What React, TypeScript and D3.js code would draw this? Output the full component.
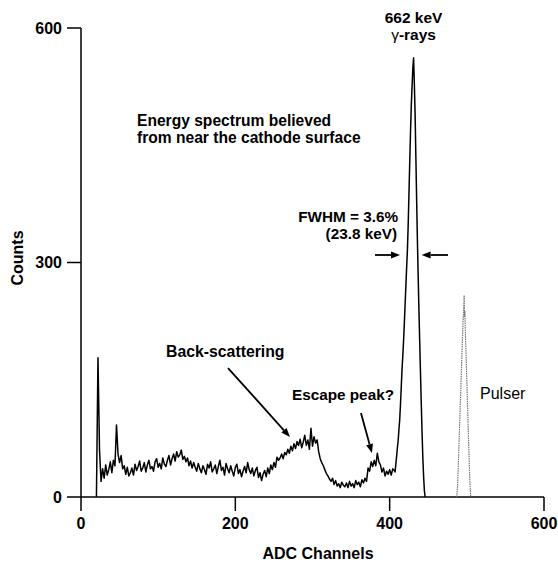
import React from 'react';
import * as d3 from 'd3';

const W = 558;
const H = 570;

const xTicks = [0, 200, 400, 600];
const yTicks = [0, 300, 600];

// low-energy part of the spectrum: one value every 2 channels starting at channel 20
const lowStart = 20;
const lowStep = 2;
const lowCounts = [
  0, 178, 60, 20,
  36, 24, 41, 28, 35, 45, 31, 47, 40, 92,
  55, 44, 53, 36, 40, 29, 38, 27, 31, 37,
  28, 42, 34, 39, 46, 33, 37, 44, 32, 41,
  47, 36, 39, 33, 45, 49, 38, 43, 36, 50,
  42, 39, 47, 53, 41, 49, 55, 46, 58, 51,
  54, 60, 48, 52, 45, 50, 40, 46, 37, 44,
  38, 33, 43, 36, 31, 40, 35, 29, 42, 37,
  45, 32, 36, 41, 30, 39, 47, 34, 38, 28,
  43, 36, 31, 40, 33, 27, 38, 42, 30, 35,
  26, 33, 39, 31, 44, 35, 30, 37, 27, 34,
  38, 25, 31, 21, 29, 34, 26, 37, 30, 41,
  35, 44, 38, 51, 47, 50, 55, 49, 57, 54,
  61, 56, 65, 59, 68, 62, 71, 66, 74, 63,
  70, 79, 66, 73, 61, 88, 65, 77, 69, 73,
  58, 49, 44, 40, 35, 30, 27, 23, 20, 24,
  16, 21, 14, 17, 12, 19, 15, 13, 18, 12,
  20, 14, 17, 12, 21, 16, 19, 13, 22, 18,
  24, 20, 37, 33, 45, 39, 47, 40, 56, 45,
  41, 32, 37, 27, 33, 29, 35, 28, 36, 34,
];

// 662 keV photopeak
const peakChannels = [
  407, 408, 409, 410, 411, 412, 413, 414, 415, 416, 417, 418, 419, 420, 421, 422, 423, 424, 425, 426,
  427, 428, 429, 430, 431, 432, 433, 434, 435, 436, 437, 438, 439, 440, 441, 442, 443, 444, 445, 446,
];
const peakCounts = [
  32, 42, 52, 63, 72, 86, 99, 118, 140, 163, 180, 200, 222, 246, 270, 294, 316, 348, 388, 428,
  466, 500, 525, 548, 562, 528, 488, 432, 378, 326, 280, 236, 196, 156, 118, 82, 50, 26, 8, 0,
];

// pulser peak
const pulserChannels = [487, 488, 489, 490, 491, 492, 493, 494, 495, 496, 496.5, 497, 497.5, 498, 499, 500, 501, 502, 503, 504, 505];
const pulserCounts = [0, 14, 42, 72, 102, 132, 162, 192, 222, 240, 258, 230, 238, 214, 182, 148, 114, 80, 48, 18, 0];

const FONT = "'Liberation Sans', Arial, Helvetica, sans-serif";

export default function App() {
  const x = d3.scaleLinear().domain([0, 600]).range([81, 544]);
  const y = d3.scaleLinear().domain([0, 600]).range([497, 28]);

  const spectrum: [number, number][] = [
    ...lowCounts.map((v, i) => [lowStart + i * lowStep, v] as [number, number]),
    ...peakChannels.map((c, i) => [c, peakCounts[i]] as [number, number]),
  ];
  const pulser: [number, number][] = pulserChannels.map((c, i) => [c, pulserCounts[i]]);

  const line = d3
    .line<[number, number]>()
    .x((d) => x(d[0]))
    .y((d) => y(d[1]));

  const tick = 14;

  const arrow = (x1: number, y1: number, x2: number, y2: number, key: string) => {
    const px1 = x(x1), py1 = y(y1), px2 = x(x2), py2 = y(y2);
    const ang = Math.atan2(py2 - py1, px2 - px1);
    const len = 9, half = 3.5;
    const bx = px2 - len * Math.cos(ang), by = py2 - len * Math.sin(ang);
    const p1 = [bx + half * Math.sin(ang), by - half * Math.cos(ang)];
    const p2 = [bx - half * Math.sin(ang), by + half * Math.cos(ang)];
    return (
      <g key={key}>
        <line x1={px1} y1={py1} x2={bx} y2={by} stroke="#000" strokeWidth={1.8} />
        <polygon points={`${px2},${py2} ${p1[0]},${p1[1]} ${p2[0]},${p2[1]}`} fill="#000" />
      </g>
    );
  };

  return (
    <svg
      width={W}
      height={H}
      style={{ position: 'absolute', left: 0, top: 0, background: '#fff' }}
      fontFamily={FONT}
    >
      <rect x={0} y={0} width={W} height={H} fill="#fff" />
      {/* axes */}
      <line x1={x(0)} y1={y(0)} x2={x(600)} y2={y(0)} stroke="#000" strokeWidth={1.5} />
      <line x1={x(0)} y1={y(0)} x2={x(0)} y2={y(600)} stroke="#000" strokeWidth={1.5} />
      {yTicks.map((t) => (
        <g key={`y${t}`}>
          <line x1={x(0) - tick} x2={x(0)} y1={y(t)} y2={y(t)} stroke="#000" strokeWidth={1.5} />
          <text x={x(0) - 19} y={y(t) + 5.5} textAnchor="end" fontWeight="bold" fontSize={16}>
            {t}
          </text>
        </g>
      ))}
      {xTicks.map((t) => (
        <g key={`x${t}`}>
          <line x1={x(t)} x2={x(t)} y1={y(0)} y2={y(0) + tick} stroke="#000" strokeWidth={1.5} />
          <text x={x(t)} y={y(0) + 32} textAnchor="middle" fontWeight="bold" fontSize={16}>
            {t}
          </text>
        </g>
      ))}
      <text x={318} y={559} textAnchor="middle" fontWeight="bold" fontSize={16}>
        ADC Channels
      </text>
      <text
        transform={`translate(23, 258) rotate(-90)`}
        textAnchor="middle"
        fontWeight="bold"
        fontSize={16}
      >
        Counts
      </text>

      {/* data */}
      <path d={line(pulser) || ''} fill="none" stroke="#777" strokeWidth={1.2} strokeDasharray="1.5,0.8" />
      <path d={line(spectrum) || ''} fill="none" stroke="#000" strokeWidth={1.5} strokeLinejoin="round" />

      {/* annotations */}
      <text x={x(431)} y={23} textAnchor="middle" fontWeight="bold" fontSize={15.5}>
        662 keV
      </text>
      <text x={x(431)} y={40} textAnchor="middle" fontWeight="bold" fontSize={15.5}>
        <tspan fontWeight="normal">γ</tspan>-rays
      </text>
      <text x={137} y={126} fontWeight="bold" fontSize={15.6}>
        Energy spectrum believed
      </text>
      <text x={137} y={143} fontWeight="bold" fontSize={15.6}>
        from near the cathode surface
      </text>
      <text x={398} y={222} textAnchor="end" fontWeight="bold" fontSize={15.3}>
        FWHM = 3.6%
      </text>
      <text x={397} y={239} textAnchor="end" fontWeight="bold" fontSize={15.3}>
        (23.8 keV)
      </text>
      <text x={166} y={357} fontWeight="bold" fontSize={15.8}>
        Back-scattering
      </text>
      <text x={394} y={400} textAnchor="end" fontWeight="bold" fontSize={15.3}>
        Escape peak?
      </text>
      <text x={480} y={399} fontSize={16}>
        Pulser
      </text>

      {arrow(190.5, 165, 270.8, 76.8, 'bs')}
      {arrow(362.8, 107.5, 377, 56.3, 'esc')}
      {arrow(381, 309.6, 413.4, 309.6, 'fl')}
      {arrow(475.6, 309.6, 441.4, 309.6, 'fr')}
    </svg>
  );
}
